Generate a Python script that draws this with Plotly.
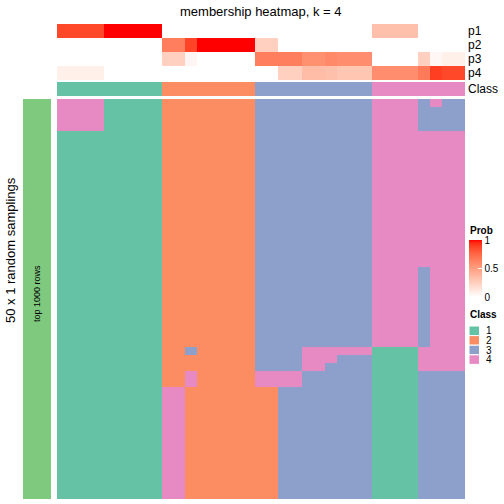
import plotly.graph_objects as go

# ---------------- data ----------------
n_cols = 35
prob_rows = ["p1", "p2", "p3", "p4"]
p1 = [0.87]*4 + [1.0]*5 + [0]*8 + [0]*10 + [0.33]*4 + [0, 0, 0, 0]
p2 = [0]*9 + [0.65, 0.65, 0.88, 1, 1, 1, 1, 1] + [0.25, 0.25] + [0]*8 + [0]*8
p3 = [0]*9 + [0.25, 0.25, 0.05, 0, 0, 0, 0, 0] + [0.65, 0.65, 0.65, 0.65, 0.57, 0.57, 0.6, 0.58, 0.58, 0.58] + [0]*4 + [0.25, 0.04, 0.08, 0.08]
p4 = [0.08]*4 + [0]*5 + [0]*8 + [0, 0, 0.25, 0.25, 0.35, 0.35, 0.33, 0.3, 0.3, 0.3] + [0.58]*4 + [0.67, 0.9, 0.87, 0.87]
class_row = [1]*9 + [2]*8 + [3]*10 + [4]*8

# 50 random samplings x 35 columns, class label per cell
sampling_rows = (
    ["444411111" + "22222222" + "3333333333" + "4444" + "3433"]
    + ["444411111" + "22222222" + "3333333333" + "4444" + "3333"] * 3
    + ["111111111" + "22222222" + "3333333333" + "4444" + "4444"] * 17
    + ["111111111" + "22222222" + "3333333333" + "4444" + "3444"] * 10
    + ["111111111" + "22322222" + "3333444444" + "1111" + "4444"]
    + ["111111111" + "22222222" + "3333444333" + "1111" + "4444"]
    + ["111111111" + "22222222" + "3333443333" + "1111" + "4444"]
    + ["111111111" + "22422222" + "4444333333" + "1111" + "3333"] * 2
    + ["111111111" + "44222222" + "2233333333" + "1111" + "3333"] * 14
)
class_labels = ["1", "2", "3", "4"]
class_colors = ["#66C2A5", "#FC8D62", "#8DA0CB", "#E78AC3"]
prob_ticks = [0, 0.5, 1]

# ---------------- helpers ----------------
W = H = 504
def px(x):
    return x / W
def py(y):
    return 1 - y / H

def lab_to_rgb(L, a, b):
    fy = (L + 16) / 116
    fx = fy + a / 500
    fz = fy - b / 200
    def finv(t):
        return t**3 if t**3 > 0.008856 else (t - 16/116) / 7.787
    X, Y, Z = 0.95047 * finv(fx), 1.0 * finv(fy), 1.08883 * finv(fz)
    r = 3.2406*X - 1.5372*Y - 0.4986*Z
    g = -0.9689*X + 1.8758*Y + 0.0415*Z
    bb = 0.0557*X - 0.2040*Y + 1.0570*Z
    def gam(c):
        c = max(0.0, min(1.0, c))
        return 1.055 * c**(1/2.4) - 0.055 if c > 0.0031308 else 12.92 * c
    return "rgb(%d,%d,%d)" % tuple(round(255*gam(c)) for c in (r, g, bb))

white_lab = (100.0, 0.0, 0.0)
red_lab = (53.24, 80.09, 67.20)
prob_scale = []
for i in range(21):
    t = i / 20
    L = white_lab[0] + t*(red_lab[0]-white_lab[0])
    a = white_lab[1] + t*(red_lab[1]-white_lab[1])
    b = white_lab[2] + t*(red_lab[2]-white_lab[2])
    prob_scale.append([t, lab_to_rgb(L, a, b)])

class_scale = []
for i, c in enumerate(class_colors):
    class_scale += [[i/4, c], [(i+1)/4, c]]

cols = list(range(n_cols))
body_z = [[int(ch) for ch in row] for row in sampling_rows]

fig = go.Figure()
fig.add_trace(go.Heatmap(
    z=[p1, p2, p3, p4], x=cols, y=prob_rows,
    colorscale=prob_scale, zmin=0, zmax=1, xaxis="x", yaxis="y",
    hoverinfo="skip",
    colorbar=dict(x=px(469), xanchor="left", y=py(240), yanchor="top",
                  len=57/H, lenmode="fraction", thickness=13,
                  outlinewidth=0, xpad=0, ypad=0,
                  tickvals=prob_ticks, ticktext=["0", "0.5", "1"],
                  ticks="inside", tickcolor="white", ticklen=4, tickwidth=1,
                  tickfont=dict(size=10, color="black",
                                family="Liberation Sans, Arial, sans-serif")),
))
fig.add_trace(go.Heatmap(
    z=[class_row], x=cols, y=["Class"], colorscale=class_scale,
    zmin=0.5, zmax=4.5, showscale=False, xaxis="x", yaxis="y2", hoverinfo="skip",
))
fig.add_trace(go.Heatmap(
    z=body_z, x=cols, y=list(range(len(sampling_rows))), colorscale=class_scale,
    zmin=0.5, zmax=4.5, showscale=False, xaxis="x", yaxis="y3", hoverinfo="skip",
))

axis_off = dict(showticklabels=False, showgrid=False, zeroline=False, ticks="", showline=False)
fig.update_layout(
    width=W, height=H, autosize=False,
    margin=dict(l=0, r=0, t=0, b=0),
    paper_bgcolor="white", plot_bgcolor="white",
    font=dict(family="Liberation Sans, Arial, sans-serif", color="black"),
    xaxis=dict(domain=[px(57), px(465)], range=[-0.5, n_cols-0.5], **axis_off),
    yaxis=dict(domain=[py(80), py(24)], autorange="reversed", anchor="x", **axis_off),
    yaxis2=dict(domain=[py(96), py(82)], anchor="x", **axis_off),
    yaxis3=dict(domain=[py(499), py(99)], autorange="reversed", anchor="x", **axis_off),
    showlegend=False,
)

shapes = [dict(type="rect", xref="paper", yref="paper", x0=px(23), x1=px(51),
               y0=py(499), y1=py(99), fillcolor="#7FC97F", line=dict(width=0))]
ann = []
def text(x, y, s, size=12, xanchor="left", angle=0, bold=False, height=None):
    d = dict(x=px(x), y=py(y), xref="paper", yref="paper", text=("<b>%s</b>" % s) if bold else s,
             showarrow=False, xanchor=xanchor, yanchor="middle", textangle=angle,
             font=dict(size=size, color="black"))
    if height is not None:
        d["height"] = height
    ann.append(d)

text(261, 11, "membership heatmap, k = 4", size=13, xanchor="center")
for name, yc in zip(prob_rows + ["Class"], [31, 45, 59, 73, 89]):
    text(466, yc, name, size=12)
text(10, 250, "50 x 1 random samplings", size=13, xanchor="center", angle=-90)
text(37, 294, "top 1000 rows", size=9, xanchor="center", angle=-90)
text(468, 230.5, "Prob", size=10, bold=True)
text(468, 314, "Class", size=10, bold=True)
sq_top = 326
for i, (lab, c) in enumerate(zip(class_labels, class_colors)):
    y0 = sq_top + i*9.6
    shapes.append(dict(type="rect", xref="paper", yref="paper", x0=px(469), x1=px(479.5),
                       y0=py(y0+9.6), y1=py(y0), fillcolor=c, line=dict(color="white", width=1)))
    text(484, y0+4.8, lab, size=10, height=9)

fig.update_layout(shapes=shapes, annotations=ann)
fig.write_html("out.html",
               config={"displayModeBar": False, "staticPlot": True},
               post_script="document.body.style.margin='0';document.body.style.overflow='hidden';")
